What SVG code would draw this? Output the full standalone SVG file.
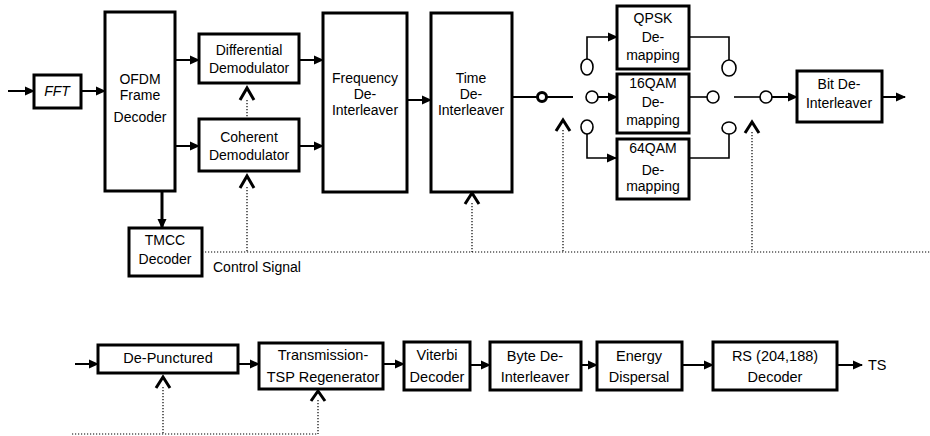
<svg xmlns="http://www.w3.org/2000/svg" width="930" height="436" viewBox="0 0 930 436">
<style>
.box{fill:#fff;stroke:#000;stroke-width:3}
.t{font-family:"Liberation Sans",Arial,sans-serif;font-size:14px;fill:#000;text-anchor:middle}
.tb{font-family:"Liberation Sans",Arial,sans-serif;font-size:14.5px;fill:#000;text-anchor:middle}
.ln{fill:none;stroke:#000;stroke-width:2}
.arr{fill:none;stroke:#000;stroke-width:2;marker-end:url(#ah)}
.dot{fill:none;stroke:#000;stroke-width:1.2;stroke-dasharray:1.2 1.8}
.chev{fill:none;stroke:#000;stroke-width:3}
.sw{fill:#fff;stroke:#000;stroke-width:1.6}
</style>
<defs>
<marker id="ah" markerWidth="10" markerHeight="10" refX="9" refY="5" orient="auto" markerUnits="userSpaceOnUse">
<path d="M0,0.5 L10,5 L0,9.5 Z" fill="#000"/>
</marker>
</defs>
<rect width="930" height="436" fill="#fff"/>

<g id="connectors">
<line class="arr" x1="8" y1="91" x2="34" y2="91"/>
<line class="arr" x1="81" y1="91" x2="105" y2="91"/>
<line class="arr" x1="175" y1="60" x2="199" y2="60"/>
<line class="arr" x1="175" y1="146" x2="199" y2="146"/>
<line class="arr" x1="299" y1="60" x2="323" y2="60"/>
<line class="arr" x1="299" y1="146" x2="323" y2="146"/>
<line class="arr" x1="407" y1="100" x2="431" y2="100"/>
<line class="arr" x1="162" y1="191" x2="162" y2="228" style="stroke-width:3"/>
<line class="ln" x1="512" y1="97" x2="573" y2="97"/>
<circle cx="542" cy="97" r="4.5" fill="#fff" stroke="#000" stroke-width="3"/>
<polyline class="arr" points="587,59 587,37 617,37" style="stroke-width:1.6"/>
<ellipse class="sw" cx="587" cy="67" rx="6" ry="8"/>
<line class="arr" x1="598" y1="97" x2="617" y2="97"/>
<circle class="sw" cx="592" cy="97" r="6"/>
<polyline class="arr" points="587,134 587,158 616,158" style="stroke-width:1.6"/>
<ellipse class="sw" cx="587" cy="127" rx="6" ry="7"/>
<polyline class="ln" points="689,37 729,37 729,60" style="stroke-width:1.6"/>
<ellipse class="sw" cx="729" cy="68" rx="7" ry="8"/>
<line class="ln" x1="689" y1="97" x2="707" y2="97" style="stroke-width:1.6"/>
<circle class="sw" cx="713" cy="97" r="6"/>
<polyline class="ln" points="689,158 729,158 729,134" style="stroke-width:1.6"/>
<ellipse class="sw" cx="729" cy="128" rx="7" ry="6"/>
<line class="ln" x1="734" y1="97" x2="760" y2="97" style="stroke-width:1.6"/>
<circle class="sw" cx="766" cy="97" r="6"/>
<line class="arr" x1="772" y1="97" x2="797" y2="97"/>
<line class="arr" x1="882" y1="97" x2="905" y2="97"/>
<line class="dot" x1="202" y1="252" x2="930" y2="252"/>
<line class="dot" x1="247" y1="100" x2="247" y2="119"/>
<path class="chev" d="M240,100 L247,88 L254,100"/>
<line class="dot" x1="247" y1="187" x2="247" y2="252"/>
<path class="chev" d="M240,188 L247,176 L254,188"/>
<line class="dot" x1="472" y1="203" x2="472" y2="252"/>
<path class="chev" d="M465,204 L472,193 L479,204"/>
<line class="dot" x1="563" y1="130" x2="563" y2="252"/>
<path class="chev" d="M556,131 L563,120 L570,131"/>
<line class="dot" x1="752" y1="132" x2="752" y2="252"/>
<path class="chev" d="M745,133 L752,122 L759,133"/>
<line class="arr" x1="75" y1="364" x2="98" y2="364"/>
<line class="arr" x1="238" y1="364" x2="259" y2="364"/>
<line class="arr" x1="383" y1="364" x2="404" y2="364"/>
<line class="arr" x1="470" y1="365" x2="490" y2="365"/>
<line class="arr" x1="581" y1="365" x2="597" y2="365"/>
<line class="arr" x1="682" y1="365" x2="713" y2="365"/>
<line class="arr" x1="837" y1="365" x2="862" y2="365"/>
<line class="dot" x1="72" y1="434" x2="318" y2="434"/>
<line class="dot" x1="163" y1="387" x2="163" y2="434"/>
<path class="chev" d="M156,388 L163,377 L170,388"/>
<line class="dot" x1="318" y1="400" x2="318" y2="434"/>
<path class="chev" d="M311,401 L318,391 L325,401"/>
</g>

<g id="fft"><rect class="box" x="34" y="75" width="47" height="33"/><text class="t" x="57" y="96" font-style="italic">FFT</text></g>
<g id="ofdm"><rect class="box" x="105" y="12" width="70" height="179"/><text class="t" x="140" y="84">OFDM</text><text class="t" x="140" y="100">Frame</text><text class="t" x="140" y="122">Decoder</text></g>
<g id="diff"><rect class="box" x="199" y="34" width="100" height="49"/><text class="t" x="249" y="55">Differential</text><text class="t" x="249" y="73">Demodulator</text></g>
<g id="coh"><rect class="box" x="199" y="119" width="100" height="52"/><text class="t" x="249" y="142">Coherent</text><text class="t" x="249" y="160">Demodulator</text></g>
<g id="tmcc"><rect class="box" x="129" y="228" width="73" height="48"/><text class="t" x="165" y="245">TMCC</text><text class="t" x="165" y="264">Decoder</text></g>
<g id="ctrl"><text class="t" x="213" y="272" style="text-anchor:start">Control Signal</text></g>
<g id="freq"><rect class="box" x="323" y="13" width="84" height="179"/><text class="t" x="365" y="83">Frequency</text><text class="t" x="365" y="99">De-</text><text class="t" x="365" y="115">Interleaver</text></g>
<g id="time"><rect class="box" x="431" y="13" width="81" height="179"/><text class="t" x="471" y="83">Time</text><text class="t" x="471" y="99">De-</text><text class="t" x="471" y="115">Interleaver</text></g>
<g id="qpsk"><rect class="box" x="617" y="6" width="72" height="63"/><text class="t" x="653" y="23">QPSK</text><text class="t" x="653" y="42">De-</text><text class="t" x="653" y="60">mapping</text></g>
<g id="qam16"><rect class="box" x="617" y="74" width="72" height="59"/><text class="t" x="653" y="88">16QAM</text><text class="t" x="653" y="107">De-</text><text class="t" x="653" y="125">mapping</text></g>
<g id="qam64"><rect class="box" x="617" y="139" width="72" height="60"/><text class="t" x="653" y="153">64QAM</text><text class="t" x="653" y="175">De-</text><text class="t" x="653" y="191">mapping</text></g>
<g id="bit"><rect class="box" x="797" y="71" width="85" height="51"/><text class="t" x="839" y="89">Bit De-</text><text class="t" x="839" y="108">Interleaver</text></g>

<g id="depunct"><rect class="box" x="98" y="345" width="140" height="28"/><text class="tb" x="168" y="363">De-Punctured</text></g>
<g id="tsp"><rect class="box" x="259" y="343" width="124" height="46"/><text class="tb" x="323" y="360">Transmission-</text><text class="tb" x="323" y="382">TSP Regenerator</text></g>
<g id="viterbi"><rect class="box" x="404" y="342" width="66" height="48"/><text class="tb" x="437" y="360">Viterbi</text><text class="tb" x="437" y="382">Decoder</text></g>
<g id="byte"><rect class="box" x="490" y="342" width="91" height="48"/><text class="tb" x="535" y="361">Byte De-</text><text class="tb" x="535" y="382">Interleaver</text></g>
<g id="energy"><rect class="box" x="597" y="342" width="85" height="48"/><text class="tb" x="639" y="361">Energy</text><text class="tb" x="639" y="382">Dispersal</text></g>
<g id="rs"><rect class="box" x="713" y="342" width="124" height="48"/><text class="tb" x="775" y="361">RS (204,188)</text><text class="tb" x="775" y="382">Decoder</text></g>
<g id="ts"><text class="tb" x="868" y="370" style="text-anchor:start">TS</text></g>
</svg>
